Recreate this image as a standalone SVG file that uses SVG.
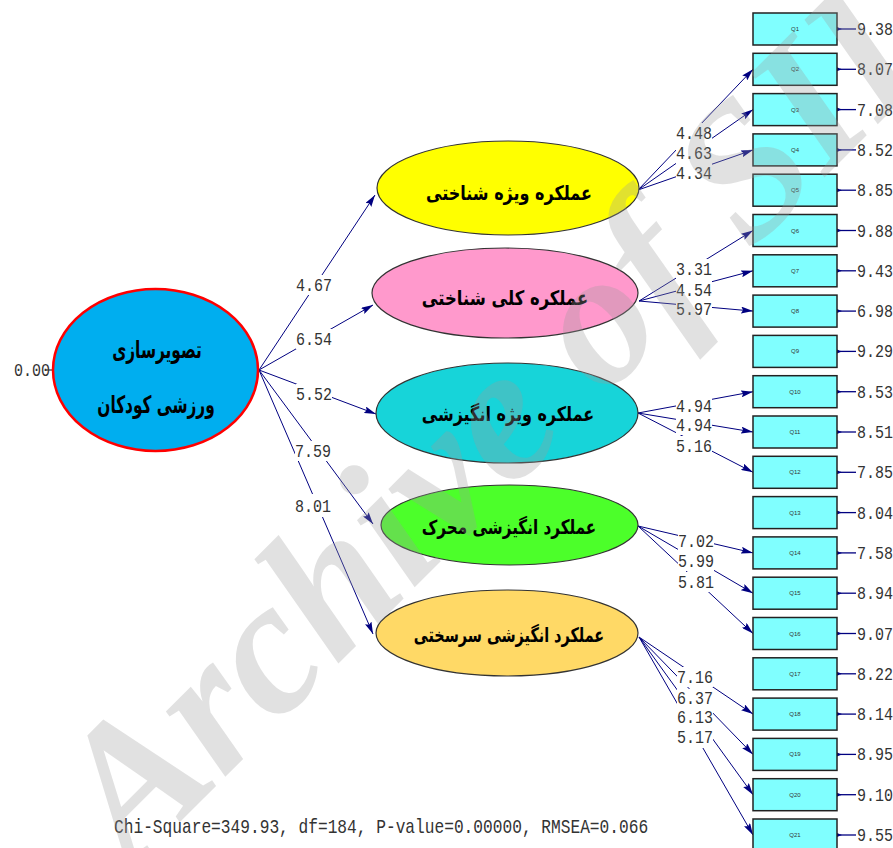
<svg xmlns="http://www.w3.org/2000/svg" width="893" height="848" viewBox="0 0 893 848">
<defs>
<marker id="ah" viewBox="0 0 12 7" refX="12" refY="3.5" markerWidth="12" markerHeight="7" markerUnits="userSpaceOnUse" orient="auto"><path d="M0,0 L12,3.5 L0,7 L2,3.5 z" fill="#000080"/></marker>
<marker id="eh" viewBox="0 0 9 7" refX="2" refY="3.5" markerWidth="9" markerHeight="7" markerUnits="userSpaceOnUse" orient="auto"><path d="M0,3.5 L9,0 L7,3.5 L9,7 z" fill="#000080"/></marker>
</defs>
<style>
.bg{fill:#ffffff}
.lat{stroke:#333333;stroke-width:1.2}
.fa{font-family:"DejaVu Sans",sans-serif;font-weight:bold;fill:#000000;text-anchor:middle}
.box{fill:#80ffff;stroke:#222222;stroke-width:1.5}
.ql{font-family:"Liberation Sans",Arial,sans-serif;font-size:6px;fill:#333333;text-anchor:middle}
.num{font-family:"Liberation Mono","Courier New",monospace;font-size:15px;fill:#333333}
.chi{font-family:"Liberation Mono","Courier New",monospace;font-size:16.2px;fill:#333333}
.mid{text-anchor:middle}
.cn line{stroke:#000080;stroke-width:1;marker-end:url(#ah)}
.er line{stroke:#000080;stroke-width:1.3;marker-end:url(#eh)}
.mask rect{fill:#ffffff}
.wm{font-family:"Liberation Serif","Times New Roman",serif;font-weight:bold;font-style:italic;font-size:192px;fill:#9a9a9a;fill-opacity:0.3}
</style>
<rect class="bg" x="0" y="0" width="893" height="848"/>

<g id="connectors">
<g class="cn">
<line x1="259" y1="370" x2="375" y2="195"/>
<line x1="259" y1="370" x2="373" y2="305"/>
<line x1="259" y1="370" x2="376" y2="414"/>
<line x1="259" y1="370" x2="373" y2="524"/>
<line x1="259" y1="370" x2="373" y2="634"/>
<line x1="638" y1="190" x2="753" y2="69.3"/>
<line x1="638" y1="190" x2="753" y2="109.6"/>
<line x1="638" y1="190" x2="753" y2="149.9"/>
<line x1="639" y1="301" x2="753" y2="230.5"/>
<line x1="639" y1="301" x2="753" y2="270.8"/>
<line x1="639" y1="301" x2="753" y2="311.1"/>
<line x1="638" y1="413" x2="753" y2="391.7"/>
<line x1="638" y1="413" x2="753" y2="432"/>
<line x1="638" y1="413" x2="753" y2="472.3"/>
<line x1="638" y1="526" x2="753" y2="552.9"/>
<line x1="638" y1="526" x2="753" y2="593.2"/>
<line x1="638" y1="526" x2="753" y2="633.5"/>
<line x1="639" y1="637" x2="753" y2="714.1"/>
<line x1="639" y1="637" x2="753" y2="754.4"/>
<line x1="639" y1="637" x2="753" y2="794.7"/>
<line x1="639" y1="637" x2="753" y2="835"/>
</g>
<g class="er">
<line x1="856" y1="29" x2="840" y2="29"/>
<line x1="856" y1="69.3" x2="840" y2="69.3"/>
<line x1="856" y1="109.6" x2="840" y2="109.6"/>
<line x1="856" y1="149.9" x2="840" y2="149.9"/>
<line x1="856" y1="190.2" x2="840" y2="190.2"/>
<line x1="856" y1="230.5" x2="840" y2="230.5"/>
<line x1="856" y1="270.8" x2="840" y2="270.8"/>
<line x1="856" y1="311.1" x2="840" y2="311.1"/>
<line x1="856" y1="351.4" x2="840" y2="351.4"/>
<line x1="856" y1="391.7" x2="840" y2="391.7"/>
<line x1="856" y1="432" x2="840" y2="432"/>
<line x1="856" y1="472.3" x2="840" y2="472.3"/>
<line x1="856" y1="512.6" x2="840" y2="512.6"/>
<line x1="856" y1="552.9" x2="840" y2="552.9"/>
<line x1="856" y1="593.2" x2="840" y2="593.2"/>
<line x1="856" y1="633.5" x2="840" y2="633.5"/>
<line x1="856" y1="673.8" x2="840" y2="673.8"/>
<line x1="856" y1="714.1" x2="840" y2="714.1"/>
<line x1="856" y1="754.4" x2="840" y2="754.4"/>
<line x1="856" y1="794.7" x2="840" y2="794.7"/>
<line x1="856" y1="835" x2="840" y2="835"/>
</g>
<line x1="46" y1="370" x2="53" y2="370" stroke="#333333" stroke-width="1.2"/>
<g class="mask">
<rect x="296" y="275" width="36" height="20"/>
<rect x="296" y="329" width="36" height="20"/>
<rect x="296" y="384" width="36" height="20"/>
<rect x="295" y="441" width="36" height="20"/>
<rect x="295" y="494" width="36" height="23"/>
<rect x="676" y="123" width="36" height="20"/>
<rect x="676" y="143" width="36" height="20"/>
<rect x="676" y="163" width="36" height="20"/>
<rect x="676" y="259" width="36" height="20"/>
<rect x="676" y="280" width="36" height="20"/>
<rect x="676" y="299" width="36" height="20"/>
<rect x="676" y="396" width="36" height="20"/>
<rect x="676" y="415" width="36" height="20"/>
<rect x="676" y="436" width="36" height="20"/>
<rect x="678" y="531" width="36" height="20"/>
<rect x="678" y="551" width="36" height="20"/>
<rect x="678" y="572" width="36" height="20"/>
<rect x="677" y="667" width="36" height="20"/>
<rect x="677" y="689" width="36" height="18"/>
<rect x="677" y="707" width="36" height="20"/>
<rect x="677" y="727" width="36" height="21"/>
</g>
<g class="num mid">
<text transform="translate(314,291) scale(1,1.25)">4.67</text>
<text transform="translate(314,345) scale(1,1.25)">6.54</text>
<text transform="translate(314,400) scale(1,1.25)">5.52</text>
<text transform="translate(313,457) scale(1,1.25)">7.59</text>
<text transform="translate(313,512) scale(1,1.25)">8.01</text>
<text transform="translate(694,139) scale(1,1.25)">4.48</text>
<text transform="translate(694,159) scale(1,1.25)">4.63</text>
<text transform="translate(694,178.5) scale(1,1.25)">4.34</text>
<text transform="translate(694,275) scale(1,1.25)">3.31</text>
<text transform="translate(694,296) scale(1,1.25)">4.54</text>
<text transform="translate(694,315) scale(1,1.25)">5.97</text>
<text transform="translate(694,412) scale(1,1.25)">4.94</text>
<text transform="translate(694,431) scale(1,1.25)">4.94</text>
<text transform="translate(694,452) scale(1,1.25)">5.16</text>
<text transform="translate(696,547) scale(1,1.25)">7.02</text>
<text transform="translate(696,567) scale(1,1.25)">5.99</text>
<text transform="translate(696,588) scale(1,1.25)">5.81</text>
<text transform="translate(695,683) scale(1,1.25)">7.16</text>
<text transform="translate(695,704) scale(1,1.2)">6.37</text>
<text transform="translate(695,723) scale(1,1.2)">6.13</text>
<text transform="translate(695,743) scale(1,1.25)">5.17</text>
</g>
</g>

<g id="n-root">
<ellipse cx="155.5" cy="370" rx="102.5" ry="81" fill="#00aeef" stroke="#ff0000" stroke-width="2.5"/>
<text class="fa" transform="translate(157,358) scale(0.64,1)" font-size="24">تصویرسازی</text>
<text class="fa" transform="translate(156,413) scale(0.64,1)" font-size="24">ورزشی کودکان</text>
<text class="num" transform="translate(14,376) scale(1,1.25)">0.00</text>
</g>
<g id="n-f1">
<ellipse class="lat" cx="508" cy="188" rx="131" ry="47" fill="#ffff00"/>
<text class="fa" transform="translate(509,200) scale(0.8,1)" font-size="20">عملکره ویژه شناختی</text>
</g>
<g id="n-f2">
<ellipse class="lat" cx="505" cy="293" rx="133" ry="45" fill="#ff99cc"/>
<text class="fa" transform="translate(505,305) scale(0.82,1)" font-size="20">عملکره کلی شناختی</text>
</g>
<g id="n-f3">
<ellipse class="lat" cx="507" cy="413" rx="131" ry="50" fill="#17d4d9"/>
<text class="fa" transform="translate(508,421) scale(0.8,1)" font-size="20">عملکره ویژه انگیزشی</text>
</g>
<g id="n-f4">
<ellipse class="lat" cx="509.5" cy="525" rx="128.5" ry="40" fill="#4cff2a"/>
<text class="fa" transform="translate(509,534) scale(0.76,1)" font-size="20">عملکرد انگیزشی محرک</text>
</g>
<g id="n-f5">
<ellipse class="lat" cx="507" cy="633" rx="131" ry="43" fill="#ffd966"/>
<text class="fa" transform="translate(509,642) scale(0.72,1)" font-size="20">عملکرد انگیزشی سرسختی</text>
</g>

<g id="n-q1"><rect class="box" x="753" y="13" width="84" height="32"/><text class="ql" x="795" y="31">Q1</text><text class="num" transform="translate(857,35) scale(1,1.25)">9.38</text></g>
<g id="n-q2"><rect class="box" x="753" y="53.3" width="84" height="32"/><text class="ql" x="795" y="71.3">Q2</text><text class="num" transform="translate(857,75.3) scale(1,1.25)">8.07</text></g>
<g id="n-q3"><rect class="box" x="753" y="93.6" width="84" height="32"/><text class="ql" x="795" y="111.6">Q3</text><text class="num" transform="translate(857,115.6) scale(1,1.25)">7.08</text></g>
<g id="n-q4"><rect class="box" x="753" y="133.9" width="84" height="32"/><text class="ql" x="795" y="151.9">Q4</text><text class="num" transform="translate(857,155.9) scale(1,1.25)">8.52</text></g>
<g id="n-q5"><rect class="box" x="753" y="174.2" width="84" height="32"/><text class="ql" x="795" y="192.2">Q5</text><text class="num" transform="translate(857,196.2) scale(1,1.25)">8.85</text></g>
<g id="n-q6"><rect class="box" x="753" y="214.5" width="84" height="32"/><text class="ql" x="795" y="232.5">Q6</text><text class="num" transform="translate(857,236.5) scale(1,1.25)">9.88</text></g>
<g id="n-q7"><rect class="box" x="753" y="254.8" width="84" height="32"/><text class="ql" x="795" y="272.8">Q7</text><text class="num" transform="translate(857,276.8) scale(1,1.25)">9.43</text></g>
<g id="n-q8"><rect class="box" x="753" y="295.1" width="84" height="32"/><text class="ql" x="795" y="313.1">Q8</text><text class="num" transform="translate(857,317.1) scale(1,1.25)">6.98</text></g>
<g id="n-q9"><rect class="box" x="753" y="335.4" width="84" height="32"/><text class="ql" x="795" y="353.4">Q9</text><text class="num" transform="translate(857,357.4) scale(1,1.25)">9.29</text></g>
<g id="n-q10"><rect class="box" x="753" y="375.7" width="84" height="32"/><text class="ql" x="795" y="393.7">Q10</text><text class="num" transform="translate(857,397.7) scale(1,1.25)">8.53</text></g>
<g id="n-q11"><rect class="box" x="753" y="416" width="84" height="32"/><text class="ql" x="795" y="434">Q11</text><text class="num" transform="translate(857,438) scale(1,1.25)">8.51</text></g>
<g id="n-q12"><rect class="box" x="753" y="456.3" width="84" height="32"/><text class="ql" x="795" y="474.3">Q12</text><text class="num" transform="translate(857,478.3) scale(1,1.25)">7.85</text></g>
<g id="n-q13"><rect class="box" x="753" y="496.6" width="84" height="32"/><text class="ql" x="795" y="514.6">Q13</text><text class="num" transform="translate(857,518.6) scale(1,1.25)">8.04</text></g>
<g id="n-q14"><rect class="box" x="753" y="536.9" width="84" height="32"/><text class="ql" x="795" y="554.9">Q14</text><text class="num" transform="translate(857,558.9) scale(1,1.25)">7.58</text></g>
<g id="n-q15"><rect class="box" x="753" y="577.2" width="84" height="32"/><text class="ql" x="795" y="595.2">Q15</text><text class="num" transform="translate(857,599.2) scale(1,1.25)">8.94</text></g>
<g id="n-q16"><rect class="box" x="753" y="617.5" width="84" height="32"/><text class="ql" x="795" y="635.5">Q16</text><text class="num" transform="translate(857,639.5) scale(1,1.25)">9.07</text></g>
<g id="n-q17"><rect class="box" x="753" y="657.8" width="84" height="32"/><text class="ql" x="795" y="675.8">Q17</text><text class="num" transform="translate(857,679.8) scale(1,1.25)">8.22</text></g>
<g id="n-q18"><rect class="box" x="753" y="698.1" width="84" height="32"/><text class="ql" x="795" y="716.1">Q18</text><text class="num" transform="translate(857,720.1) scale(1,1.25)">8.14</text></g>
<g id="n-q19"><rect class="box" x="753" y="738.4" width="84" height="32"/><text class="ql" x="795" y="756.4">Q19</text><text class="num" transform="translate(857,760.4) scale(1,1.25)">8.95</text></g>
<g id="n-q20"><rect class="box" x="753" y="778.7" width="84" height="32"/><text class="ql" x="795" y="796.7">Q20</text><text class="num" transform="translate(857,800.7) scale(1,1.25)">9.10</text></g>
<g id="n-q21"><rect class="box" x="753" y="819" width="84" height="32"/><text class="ql" x="795" y="837">Q21</text><text class="num" transform="translate(857,841) scale(1,1.25)">9.55</text></g>

<text class="chi" transform="translate(114,833) scale(1,1.2)">Chi-Square=349.93, df=184, P-value=0.00000, RMSEA=0.066</text>

<text class="wm" transform="translate(132,870) rotate(-45)">Archive of SID</text>
</svg>
